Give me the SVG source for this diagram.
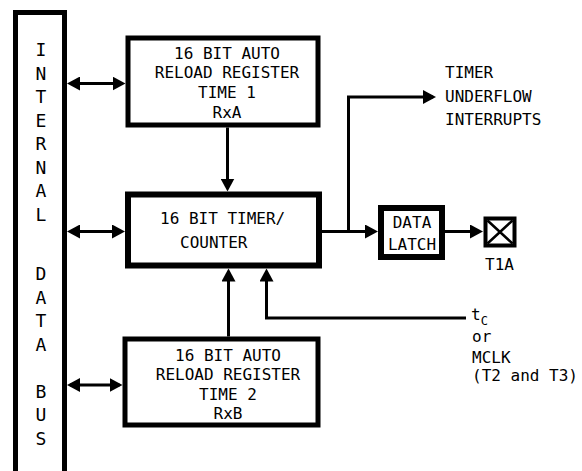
<svg xmlns="http://www.w3.org/2000/svg" width="582" height="471" viewBox="0 0 582 471">
<defs>
<marker id="ah" markerUnits="userSpaceOnUse" markerWidth="14" markerHeight="14" refX="10" refY="7" orient="auto-start-reverse" viewBox="0 0 14 14">
<path d="M0,0 L13,7 L0,14 z" fill="#000"/>
</marker>
<style>
.box{fill:#fff;stroke:#000}
.t{font-family:"DejaVu Sans Mono","Liberation Mono",monospace;font-size:16px;fill:#000}
.m{text-anchor:middle}
.bl{font-family:"DejaVu Sans Mono","Liberation Mono",monospace;font-size:18px;fill:#000;text-anchor:middle}
.c{fill:none;stroke:#000;stroke-width:3}
.a{marker-end:url(#ah)}
.d{marker-start:url(#ah);marker-end:url(#ah)}
</style>
</defs>
<rect width="582" height="471" fill="#fff"/>
<g id="bus">
<rect class="box" x="15.5" y="12.5" width="49" height="470" stroke-width="5"/>
<text class="bl" x="41" y="56">I</text>
<text class="bl" x="41" y="79.5">N</text>
<text class="bl" x="41" y="103">T</text>
<text class="bl" x="41" y="126.5">E</text>
<text class="bl" x="41" y="150">R</text>
<text class="bl" x="41" y="173.5">N</text>
<text class="bl" x="41" y="197">A</text>
<text class="bl" x="41" y="220.5">L</text>
<text class="bl" x="41" y="280">D</text>
<text class="bl" x="41" y="303.5">A</text>
<text class="bl" x="41" y="327">T</text>
<text class="bl" x="41" y="350.5">A</text>
<text class="bl" x="41" y="397.5">B</text>
<text class="bl" x="41" y="421">U</text>
<text class="bl" x="41" y="444.5">S</text>
</g>
<g id="rxa">
<rect class="box" x="128" y="38" width="190" height="87" stroke-width="5"/>
<text class="t m" x="227" y="58.5">16 BIT AUTO</text>
<text class="t m" x="227" y="78.3">RELOAD REGISTER</text>
<text class="t m" x="227" y="98">TIME 1</text>
<text class="t m" x="227" y="118">RxA</text>
</g>
<g id="timer">
<rect class="box" x="128" y="194.5" width="191" height="71" stroke-width="6"/>
<text class="t" x="160" y="224">16 BIT TIMER/</text>
<text class="t" x="180" y="247.7">COUNTER</text>
</g>
<g id="rxb">
<rect class="box" x="125" y="339" width="193" height="86" stroke-width="5"/>
<text class="t m" x="228" y="360.7">16 BIT AUTO</text>
<text class="t m" x="228" y="380">RELOAD REGISTER</text>
<text class="t m" x="228" y="400">TIME 2</text>
<text class="t m" x="228" y="419.3">RxB</text>
</g>
<g id="latch">
<rect class="box" x="381" y="208" width="61" height="49" stroke-width="6"/>
<text class="t m" x="412" y="228.3">DATA</text>
<text class="t m" x="412" y="250">LATCH</text>
</g>
<g id="t1a">
<rect class="box" x="485.5" y="218.5" width="29" height="27" stroke-width="4"/>
<path d="M487.5,220.5 L512.5,243.5 M512.5,220.5 L487.5,243.5" stroke="#000" stroke-width="2.5" fill="none"/>
<text class="t m" x="499.5" y="270">T1A</text>
</g>
<g id="interrupts">
<text class="t" x="445" y="78.3">TIMER</text>
<text class="t" x="445" y="102">UNDERFLOW</text>
<text class="t" x="445" y="125">INTERRUPTS</text>
</g>
<g id="clock">
<text class="t" x="471" y="320">t<tspan font-size="12" dy="5">C</tspan></text>
<text class="t" x="472" y="341.7">or</text>
<text class="t" x="472" y="362.7">MCLK</text>
<text class="t" x="472" y="380.5">(T2 and T3)</text>
</g>
<g id="connectors">
<line class="c d" x1="70" y1="83.5" x2="122.5" y2="83.5"/>
<line class="c d" x1="70" y1="231.5" x2="122" y2="231.5"/>
<line class="c d" x1="70" y1="385" x2="119.5" y2="385"/>
<line class="c a" x1="227.5" y1="127.5" x2="227.5" y2="188.5"/>
<line class="c a" x1="228.5" y1="336.5" x2="228.5" y2="271.5"/>
<path class="c a" d="M466,318 H266.5 V271.5"/>
<line class="c a" x1="322" y1="231.5" x2="375" y2="231.5"/>
<path class="c a" d="M348.5,231.5 V97 H433"/>
<line class="c a" x1="445" y1="231.5" x2="480" y2="231.5"/>
</g>
</svg>
